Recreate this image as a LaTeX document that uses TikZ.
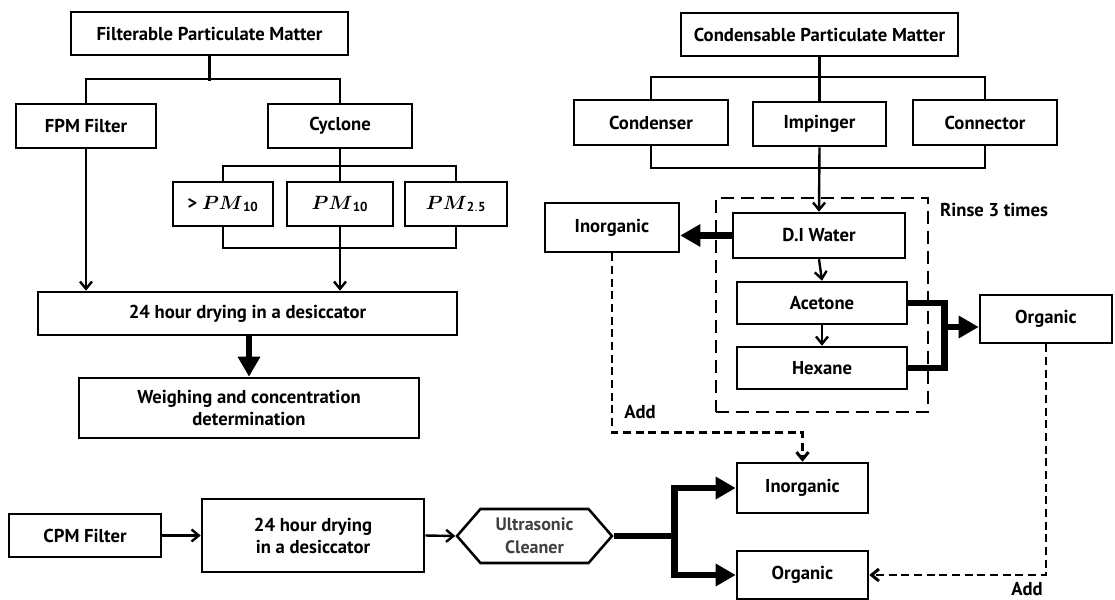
\documentclass[tikz,border=0pt]{standalone}
\usepackage{fontspec}
\usepackage{amsmath}
\setmainfont{PT Sans}
\usetikzlibrary{arrows.meta,shapes.symbols}
\definecolor{usgray}{HTML}{404040}
\newcommand{\pmlabel}[1]{\boldsymbol{PM}_{\mathbf{#1}}}
\begin{document}
\begin{tikzpicture}[x=0.75pt,y=-0.75pt,
  font=\bfseries\fontsize{14}{16.5}\selectfont,
  bx/.style 2 args={draw, line width=1.9pt, inner sep=0pt, align=center,
     minimum width=#1*0.75pt, minimum height=#2*0.75pt},
  ln/.style={line width=1.8pt},
  arr/.style={line width=1.8pt, -{Straight Barb[length=5.5pt,width=9pt]}},
  thk/.style={line width=5pt},
  thkarr/.style={line width=5pt, -{Triangle[length=15pt,width=16pt]}},
  dsh/.style={line width=2.2pt, dash pattern=on 6pt off 3.5pt},
  dbox/.style={draw, line width=1.8pt, dash pattern=on 10pt off 5pt, inner sep=0pt,
     minimum width=#1*0.75pt},
  ]
\useasboundingbox (0,0) rectangle (1115,600);

% ---------- left: filterable ----------
\node[bx={277}{43}] (fpm) at (209.5,33.5) {Filterable Particulate Matter};
\node[bx={140}{44}] (fpmf) at (86,126) {FPM Filter};
\node[bx={144}{44}] (cyc) at (340,126) {Cyclone};
\node[bx={100}{44}] (pa) at (223,204) {> $\pmlabel{10}$};
\node[bx={106}{44}] (pb) at (340,204) {$\pmlabel{10}$};
\node[bx={102}{44}] (pc) at (456,204) {$\pmlabel{2.5}$};
\node[bx={419}{43}] (dry1) at (247.5,313.5) {24 hour drying in a desiccator};
\node[bx={340}{60}] (weigh) at (249,408) {Weighing and concentration\\determination};

\draw[ln] (fpm.south) -- ++(0,25);
\draw[ln] (fpmf.north) -- ++(0,-24) -| (cyc.north);
\draw[ln] (cyc.south) -- (pb.north);
\draw[ln] (pa.north) -- ++(0,-15) -| (pc.north);
\draw[ln] (pa.south) -- ++(0,21) -| (pc.south);
\draw[arr] (pb.south) -- (pb.south |- dry1.north);
\draw[arr] (fpmf.south) -- (fpmf.south |- dry1.north);
\draw[thkarr] (weigh.north |- dry1.south) -- (weigh.north);

% ---------- right: condensable ----------
\node[bx={277}{43}] (cpm) at (819.5,34.5) {Condensable Particulate Matter};
\node[bx={154}{45}] (cond) at (651,122.5) {Condenser};
\node[bx={133}{44}] (imp) at (819.5,124) {Impinger};
\node[bx={144}{45}] (conn) at (985,122.5) {Connector};
\node[dbox={212}, minimum height=214*0.75pt] (rinsebox) at (822,305) {};
\node (rinse) at (994,210) {Rinse 3 times};
\node[bx={172}{45}] (di) at (819,235.5) {D.I Water};
\node[bx={134}{49}] (inorg1) at (612,227.5) {Inorganic};
\node[bx={170}{42}] (ace) at (822,303) {Acetone};
\node[bx={170}{42}] (hex) at (822,368) {Hexane};
\node[bx={132}{48}] (org1) at (1046,319) {Organic};

\draw[ln] (cpm.south) -- (imp.north);
\draw[ln] (cond.north) -- ++(0,-22) -| (conn.north);
\draw[ln] (cond.south) -- ++(0,22) -| (conn.south);
\draw[arr] (imp.south) -- (di.north);
\draw[arr] (di.south) -- (ace.north);
\draw[arr] (ace.south) -- (hex.north);
\draw[thkarr] (di.west) -- (di.west -| inorg1.east);
\draw[thk] (ace.east) -- ++(36,0) coordinate (j) |- (hex.east);
\draw[thkarr] (j |- 0,327) -- (org1.west |- 0,327);

% ---------- bottom ----------
\node[bx={152}{43}] (cpmf) at (85,535.5) {CPM Filter};
\node[bx={222}{73}] (dry2) at (313,535.5) {24 hour drying\\in a desiccator};
\node[signal, signal to=west and east, signal pointer angle=98, draw, line width=1.9pt,
      minimum width=155*0.75pt, minimum height=54*0.75pt, inner sep=0pt, align=center,
      text=usgray, font=\bfseries\fontsize{13.5}{17}\selectfont] (us) at (534.5,536) {Ultrasonic\\Cleaner};
\node[bx={131}{50}] (inorg2) at (802.5,488) {Inorganic};
\node[bx={131}{48}] (org2) at (802.5,575) {Organic};

\draw[arr] (cpmf.east) -- (dry2.west);
\draw[arr] (dry2.east) -- (us.west);
\draw[thk] (us.east) -- ++(61,0) coordinate (k);
\draw[thkarr] (k) |- (inorg2.west);
\draw[thkarr] (k) |- (org2.west);

% ---------- dashed "Add" links ----------
\draw[dsh, -{Straight Barb[length=5.5pt,width=9pt]}] (inorg1.south) -- ++(0,179) -| (inorg2.north);
\node (add1) at (640,412) {Add};
\draw[dsh, -{Straight Barb[length=5.5pt,width=9pt]}] (org1.south) |- (org2.east);
\node[inner sep=1pt] (add2) at (1027,589) {Add};
\end{tikzpicture}
\end{document}
